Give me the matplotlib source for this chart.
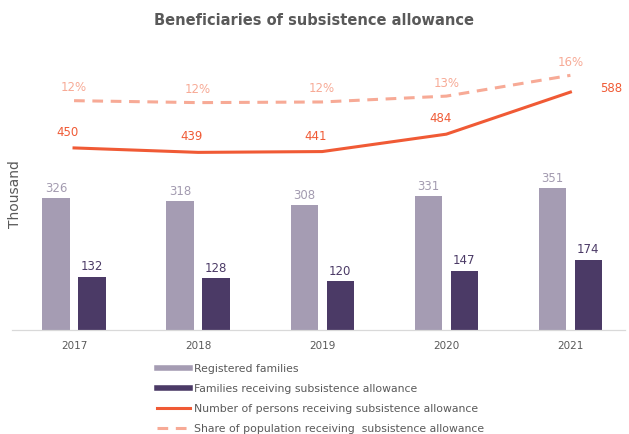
import matplotlib.pyplot as plt
from matplotlib.lines import Line2D

years = ["2017", "2018", "2019", "2020", "2021"]
registered = [326, 318, 308, 331, 351]
receiving = [132, 128, 120, 147, 174]
persons = [450, 439, 441, 484, 588]
share = [12.2, 11.9, 12.0, 12.9, 16.1]

c_light = "#a59cb3"
c_dark = "#4b3a66"
c_line = "#f05a35"
c_dash = "#f7aa96"
c_text = "#595959"

fig = plt.figure(figsize=(6.29, 4.34), dpi=100)
ax = fig.add_axes([12 / 629, 104 / 434, 613 / 629, 263 / 434])
ax2 = ax.twinx()

x = list(range(len(years)))
w = 0.22
ax.bar([i - 0.145 for i in x], registered, w, color=c_light)
ax.bar([i + 0.145 for i in x], receiving, w, color=c_dark)
ax.plot(x, persons, color=c_line, lw=2.2)
ax2.plot(x, share, color=c_dash, lw=2.2, ls=(0, (3.5, 2.5)))

for i in x:
    ax.text(i - 0.145, registered[i] + 8, str(registered[i]), ha="center", va="bottom",
            color="#a39bb0", fontsize=8.5)
    ax.text(i + 0.145, receiving[i] + 8, str(receiving[i]), ha="center", va="bottom",
            color=c_dark, fontsize=8.5)
    if i == len(x) - 1:
        ax.text(i + 0.24, persons[i] + 8, str(persons[i]), ha="left", va="center",
                color=c_line, fontsize=8.5)
    else:
        ax.text(i - 0.05, persons[i] + 22, str(persons[i]), ha="center", va="bottom",
                color=c_line, fontsize=8.5)
    ax2.text(i, share[i] + 1.0, f"{share[i]:.0f}%", ha="center", va="bottom",
             color=c_dash, fontsize=8.5)

ax.set_xlim(-0.5, 4.44)
ax.set_ylim(0, 650)
ax2.set_ylim(-23.08, 17.38)
ax.set_xticks(x)
ax.set_xticklabels(years, fontsize=7.5, color=c_text)
ax.set_yticks([])
ax2.set_yticks([])
for a in (ax, ax2):
    for s in ("top", "right", "left"):
        a.spines[s].set_visible(False)
    a.spines["bottom"].set_color("#d9d9d9")
ax.tick_params(axis="x", length=0, pad=8)

fig.text(15 / 629, 1 - 194 / 434, "Thousand", rotation=90, ha="center", va="center",
         fontsize=10, color=c_text)
fig.text(0.5, 0.953, "Beneficiaries of subsistence allowance", ha="center", va="center",
         fontsize=10.5, fontweight="bold", color=c_text)

handles = [
    Line2D([], [], color=c_light, lw=4),
    Line2D([], [], color=c_dark, lw=4),
    Line2D([], [], color=c_line, lw=2.2),
    Line2D([], [], color=c_dash, lw=2.2, ls=(0, (3.5, 2.5))),
]
labels = [
    "Registered families",
    "Families receiving subsistence allowance",
    "Number of persons receiving subsistence allowance",
    "Share of population receiving  subsistence allowance",
]
fig.legend(handles, labels, loc="upper left", bbox_to_anchor=(157 / 629, 1 - 364 / 434),
           frameon=False, fontsize=7.8, labelcolor=c_text, handlelength=3.0,
           handletextpad=0.4, labelspacing=0.92, borderaxespad=0, borderpad=0)

fig.savefig("out.png", dpi=100)
